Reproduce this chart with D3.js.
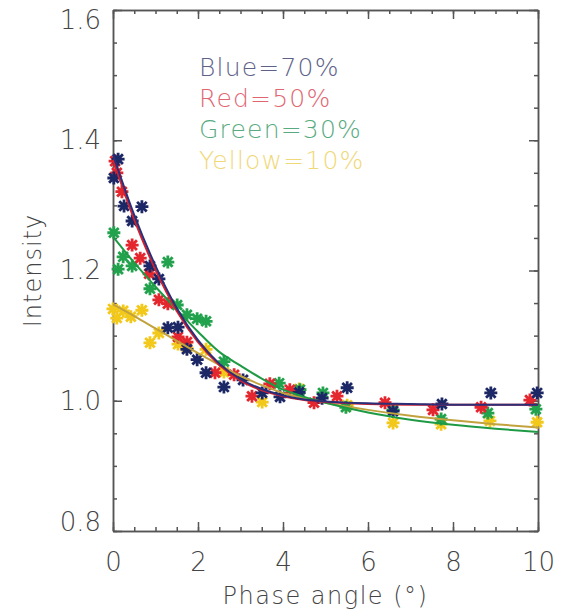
<!DOCTYPE html>
<html>
<head>
<meta charset="utf-8">
<script src="https://cdn.jsdelivr.net/npm/d3@7"></script>
<style>
  html, body { margin: 0; padding: 0; background: #fff; }
  svg { display: block; }
  text { font-family: "DejaVu Sans", sans-serif; font-weight: 200; }
</style>
</head>
<body>
<div id="chart"></div>
<script>
// Measured points (phase angle in degrees, intensity)
const bluePts = [
  [0.02, 1.342], [0.12, 1.371], [0.26, 1.299], [0.45, 1.276], [0.68, 1.298],
  [0.87, 1.207], [1.08, 1.187], [1.29, 1.112], [1.53, 1.113], [1.74, 1.079],
  [1.98, 1.063], [2.19, 1.043], [2.61, 1.021], [3.06, 1.032], [3.51, 1.012],
  [3.93, 1.006], [4.38, 1.013], [4.92, 1.004], [5.51, 1.020], [6.59, 0.984],
  [7.74, 0.995], [8.89, 1.012], [9.98, 1.012]
];
const redPts = [
  [0.05, 1.368], [0.09, 1.350], [0.21, 1.321], [0.45, 1.239], [0.64, 1.219],
  [0.85, 1.195], [1.08, 1.155], [1.29, 1.149], [1.53, 1.098], [1.74, 1.090],
  [2.40, 1.043], [2.85, 1.040], [3.27, 1.007], [3.69, 1.026], [4.16, 1.017],
  [4.73, 0.997], [5.27, 1.007], [6.40, 0.997], [7.53, 0.986], [8.66, 0.990],
  [9.81, 1.001]
];
const greenPts = [
  [0.02, 1.258], [0.12, 1.202], [0.24, 1.221], [0.45, 1.207], [0.87, 1.172],
  [1.29, 1.213], [1.51, 1.147], [1.74, 1.132], [1.98, 1.126], [2.19, 1.122],
  [2.61, 1.060], [3.91, 1.027], [4.40, 1.017], [4.94, 1.012], [5.48, 0.990],
  [6.59, 0.986], [7.72, 0.972], [8.82, 0.981], [9.95, 0.987]
];
const yellowPts = [
  [0.00, 1.141], [0.09, 1.127], [0.24, 1.138], [0.42, 1.129], [0.68, 1.139],
  [0.87, 1.089], [1.08, 1.104], [1.53, 1.087], [1.74, 1.081], [2.19, 1.079],
  [2.61, 1.044], [3.51, 0.998], [4.38, 1.018], [5.51, 0.993], [6.59, 0.966],
  [7.72, 0.964], [8.87, 0.969], [9.98, 0.967]
];

// Fitted curves
const fitX      = [0, 0.5, 1, 1.5, 2, 2.5, 3, 3.5, 4, 4.5, 5, 6, 7, 8, 9, 10];
const blueFit   = [1.378, 1.285, 1.207, 1.142, 1.093, 1.057, 1.033, 1.018, 1.008, 1.002, 0.999, 0.996, 0.995, 0.994, 0.994, 0.994];
const redFit    = [1.370, 1.278, 1.201, 1.138, 1.090, 1.055, 1.031, 1.016, 1.007, 1.001, 0.998, 0.995, 0.994, 0.994, 0.994, 0.994];
const greenFit  = [1.252, 1.212, 1.175, 1.140, 1.106, 1.075, 1.054, 1.034, 1.017, 1.006, 0.997, 0.982, 0.971, 0.963, 0.957, 0.952];
const yellowFit = [1.148, 1.130, 1.111, 1.092, 1.073, 1.055, 1.038, 1.024, 1.012, 1.004, 0.997, 0.986, 0.977, 0.970, 0.964, 0.959];

const legendLabels = ["Blue=70%", "Red=50%", "Green=30%", "Yellow=10%"];
const xTicks = [0, 2, 4, 6, 8, 10];
const yTicks = [0.8, 1.0, 1.2, 1.4, 1.6];

const series = [
  { pts: yellowPts, fit: yellowFit, mark: "#f2c81a", line: "#c2a23e", text: "#f0d878" },
  { pts: greenPts,  fit: greenFit,  mark: "#22a24c", line: "#1f9a44", text: "#58ab80" },
  { pts: redPts,    fit: redFit,    mark: "#e4262e", line: "#d8202c", text: "#e06672" },
  { pts: bluePts,   fit: blueFit,   mark: "#1c2766", line: "#2a2f78", text: "#5e6288" }
];

const width = 564, height = 615;
const plotL = 113, plotR = 538, plotT = 10, plotB = 531;

const svg = d3.select("#chart").append("svg")
  .attr("width", width)
  .attr("height", height);

const x = d3.scaleLinear().domain([0, 10]).range([plotL, plotR]);
const y = d3.scaleLinear().domain([0.8, 1.6]).range([plotB, plotT]);

const axisColor = "#555";
const minorX = d3.range(0, 10.01, 0.5);
const minorY = d3.range(0.8, 1.601, 0.05);

// Axes: major + minor ticks on all four sides, pointing inward
function drawAxis(axis, tx, ty) {
  const g = svg.append("g").attr("transform", `translate(${tx},${ty})`).call(axis);
  g.selectAll("path, line").attr("stroke", axisColor).attr("stroke-width", 1.5);
  g.selectAll("text").attr("fill", "#444").style("font-size", "26px")
    .style("font-family", "DejaVu Sans").style("font-weight", 200);
  return g;
}

drawAxis(d3.axisBottom(x).tickValues(minorX).tickSize(-4).tickSizeOuter(0).tickFormat(""), 0, plotB);
const xAx = drawAxis(d3.axisBottom(x).tickValues(xTicks).tickSize(-9).tickSizeOuter(0).tickFormat(d3.format("d")), 0, plotB);
xAx.selectAll("text").attr("y", 22);
drawAxis(d3.axisTop(x).tickValues(minorX).tickSize(-4).tickSizeOuter(0).tickFormat(""), 0, plotT);
drawAxis(d3.axisTop(x).tickValues(xTicks).tickSize(-9).tickSizeOuter(0).tickFormat(""), 0, plotT);

drawAxis(d3.axisLeft(y).tickValues(minorY).tickSize(-4).tickSizeOuter(0).tickFormat(""), plotL, 0);
const yAx = drawAxis(d3.axisLeft(y).tickValues(yTicks).tickSize(-9).tickSizeOuter(0).tickFormat(d3.format(".1f")), plotL, 0);
// end labels sit pulled inside the frame, as in the original plot
yAx.selectAll("text")
  .attr("x", -12)
  .attr("y", v => v === 1.6 ? 10 : v === 0.8 ? -9 : 0);
drawAxis(d3.axisRight(y).tickValues(minorY).tickSize(-4).tickSizeOuter(0).tickFormat(""), plotR, 0);
drawAxis(d3.axisRight(y).tickValues(yTicks).tickSize(-9).tickSizeOuter(0).tickFormat(""), plotR, 0);

// Axis titles
svg.append("text")
  .attr("x", (plotL + plotR) / 2)
  .attr("y", 604)
  .attr("text-anchor", "middle")
  .attr("fill", "#444")
  .style("font-size", "24px")
  .style("letter-spacing", "1.5px")
  .text("Phase angle (°)");

svg.append("text")
  .attr("transform", `translate(41,${(plotT + plotB) / 2}) rotate(-90)`)
  .attr("text-anchor", "middle")
  .attr("fill", "#444")
  .style("font-size", "24px")
  .style("letter-spacing", "1px")
  .text("Intensity");

// Asterisk marker
const s = 6.5, d = 4.8;
const star = `M${-s},0L${s},0M0,${-s}L0,${s}M${-d},${-d}L${d},${d}M${-d},${d}L${d},${-d}`;

const plot = svg.append("g");

series.forEach(ser => {
  plot.append("g").selectAll("path")
    .data(ser.pts)
    .join("path")
    .attr("transform", p => `translate(${x(p[0])},${y(p[1])})`)
    .attr("d", star)
    .attr("fill", "none")
    .attr("stroke", ser.mark)
    .attr("stroke-width", 2.8);
});

const line = d3.line()
  .x((v, i) => x(fitX[i]))
  .y(v => y(v))
  .curve(d3.curveMonotoneX);

series.forEach(ser => {
  plot.append("path")
    .datum(ser.fit)
    .attr("d", line)
    .attr("fill", "none")
    .attr("stroke", ser.line)
    .attr("stroke-width", 2);
});

// Legend
const legendOrder = [3, 2, 1, 0];
legendLabels.forEach((label, i) => {
  svg.append("text")
    .attr("x", 199)
    .attr("y", 76 + i * 31)
    .attr("fill", series[legendOrder[i]].text)
    .style("font-size", "25px")
    .style("letter-spacing", "1.2px")
    .text(label);
});
</script>
</body>
</html>
